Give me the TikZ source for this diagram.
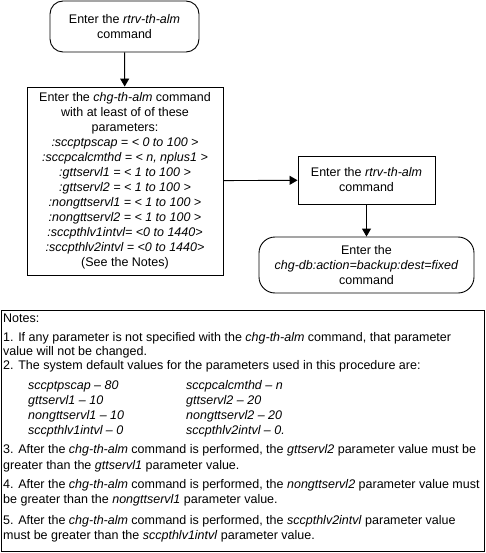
\documentclass[tikz,border=0pt]{standalone}
\usepackage{fontspec}
\setmainfont{Liberation Sans}
\usetikzlibrary{arrows.meta}
\newcommand\boxfont{\fontsize{12.5pt}{15pt}\selectfont}
\newcommand\notefont{\fontsize{12.5pt}{15pt}\selectfont}
\begin{document}
\begin{tikzpicture}[x=1pt,y=-1pt,
  box/.style={draw,line width=0.9pt,inner sep=0pt,align=center,font=\boxfont},
  rbox/.style={box,rounded corners=13pt},
  conn/.style={line width=0.9pt,-{Triangle[length=8pt,width=9pt]}}]
\useasboundingbox (0,0) rectangle (486,553);
\node[rbox,minimum width=149pt,minimum height=51pt] (start) at (124.5,26.5)
  {Enter the \textit{rtrv-th-alm}\\command};
\node[box,minimum width=196pt,minimum height=188pt] (chg) at (125,181)
  {Enter the \textit{chg-th-alm} command\\with at least of of these\\parameters:\\
   \textit{:sccptpscap = < 0 to 100 >}\\
   \textit{:sccpcalcmthd = < n, nplus1 >}\\
   \textit{:gttservl1 = < 1 to 100 >}\\
   \textit{:gttservl2 = < 1 to 100 >}\\
   \textit{:nongttservl1 = < 1 to 100 >}\\
   \textit{:nongttservl2 = < 1 to 100 >}\\
   \textit{:sccpthlv1intvl= <0 to 1440>}\\
   \textit{:sccpthlv2intvl = <0 to 1440>}\\
   (See the Notes)};
\node[box,minimum width=137pt,minimum height=48pt] (rtrv) at (366.5,180)
  {Enter the \textit{rtrv-th-alm}\\command};
\node[rbox,rounded corners=16pt,minimum width=215pt,minimum height=56pt] (db) at (366.5,265)
  {Enter the\\\textit{chg-db:action=backup:dest=fixed}\\command};
\draw[conn] (start) -- (chg);
\draw[conn] (chg) -- (rtrv);
\draw[conn] (rtrv) -- (db);
\node[box,minimum width=483pt,minimum height=241pt] (notesbox) at (242.5,430.5) {};
\node[anchor=north west,inner sep=0pt,align=left,font=\notefont] (notes) at (3,314)
  {Notes:\\[4pt]
   1. If any parameter is not specified with the \textit{chg-th-alm} command, that parameter\\[-1.5pt]
   value will not be changed.\\[-0.5pt]
   2. The system default values for the parameters used in this procedure are:\\[4.5pt]
   \hspace*{25pt}\makebox[158pt][l]{\textit{sccptpscap – 80}}\textit{sccpcalcmthd – n}\\
   \hspace*{25pt}\makebox[158pt][l]{\textit{gttservl1 – 10}}\textit{gttservl2 – 20}\\
   \hspace*{25pt}\makebox[158pt][l]{\textit{nongttservl1 – 10}}\textit{nongttservl2 – 20}\\
   \hspace*{25pt}\makebox[158pt][l]{\textit{sccpthlv1intvl – 0}}\textit{sccpthlv2intvl – 0.}\\[4.5pt]
   3. After the \textit{chg-th-alm} command is performed, the \textit{gttservl2} parameter value must be\\[0.5pt]
   greater than the \textit{gttservl1} parameter value.\\[4.5pt]
   4. After the \textit{chg-th-alm} command is performed, the \textit{nongttservl2} parameter value must\\
   be greater than the \textit{nongttservl1} parameter value.\\[5.5pt]
   5. After the \textit{chg-th-alm} command is performed, the \textit{sccpthlv2intvl} parameter value\\
   must be greater than the \textit{sccpthlv1intvl} parameter value.};
\end{tikzpicture}
\end{document}
